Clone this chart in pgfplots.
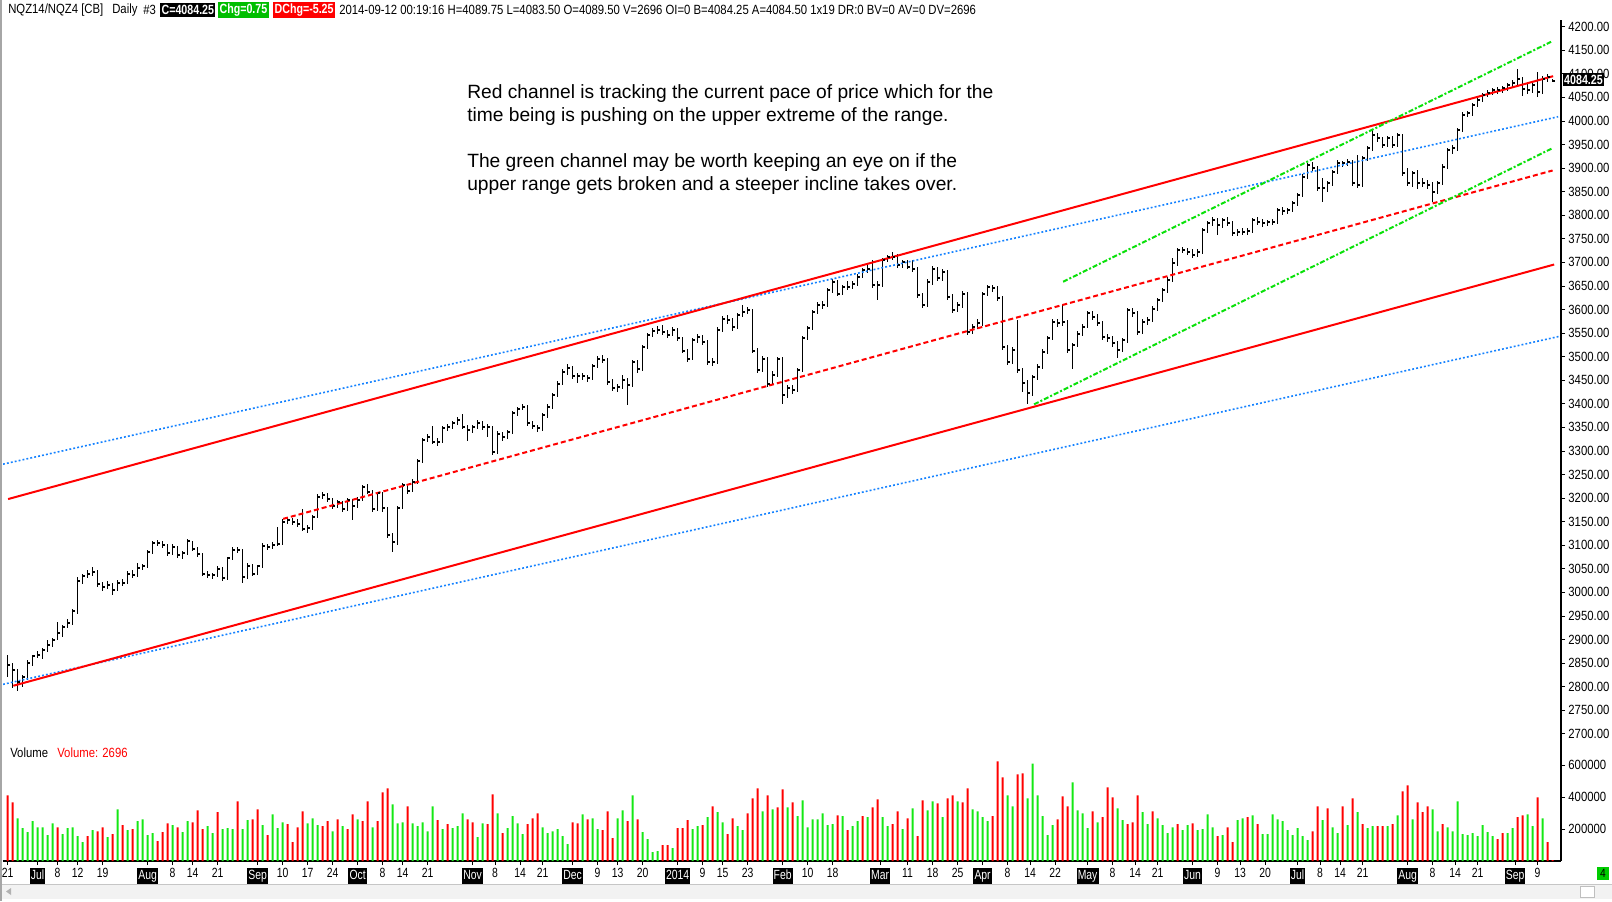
\documentclass[border=0pt]{standalone}
\usepackage{pgfplots}
\pgfplotsset{compat=1.18}
\usepackage{pgfplotstable}
\usepackage{fontspec}
\setmainfont{Liberation Sans}
\newfontfamily\cf[FakeStretch=0.85]{Liberation Sans}
\newfontfamily\cfb[FakeStretch=0.8]{Liberation Sans Bold}
\newfontfamily\df[FakeStretch=0.78]{Liberation Sans}
\definecolor{vgreen}{RGB}{20,232,20}
\definecolor{lgreen}{RGB}{10,225,10}
\definecolor{dblue}{RGB}{20,130,255}
\definecolor{chg}{RGB}{0,190,0}
\pgfdeclareplotmark{ctick}{\pgfpathrectangle{\pgfqpoint{0pt}{-0.75pt}}{\pgfqpoint{2pt}{1.5pt}}\pgfusepathqfill}
\newcommand{\mth}[1]{{\setlength{\fboxsep}{0.8pt}\colorbox{black}{\textcolor{white}{\strut #1}}}}

\pgfplotstableread{
i H L C V U
0 2867 2821 2847 410 0
1 2850 2797 2835 367 0
2 2838 2791 2810 267 1
3 2824 2800 2820 205 1
4 2857 2815 2850 180 1
5 2868 2843 2866 249 1
6 2875 2861 2867 211 1
7 2883 2858 2878 211 1
8 2898 2874 2888 162 1
9 2904 2885 2900 236 1
10 2938 2898 2913 211 0
11 2930 2905 2927 168 1
12 2944 2925 2935 205 1
13 2964 2930 2960 211 1
14 3032 2955 3025 155 1
15 3038 3017 3035 118 1
16 3048 3030 3040 155 0
17 3054 3034 3044 193 1
18 3047 3012 3017 186 0
19 3022 3004 3011 211 0
20 3024 3008 3016 149 1
21 3019 2994 3006 168 0
22 3026 3003 3021 323 1
23 3029 3014 3021 224 0
24 3045 3018 3040 193 1
25 3047 3030 3037 199 0
26 3062 3032 3052 249 1
27 3061 3047 3057 261 1
28 3090 3052 3086 162 1
29 3109 3081 3104 174 1
30 3111 3098 3104 124 0
31 3108 3094 3100 180 0
32 3103 3078 3084 236 0
33 3102 3080 3097 224 1
34 3099 3072 3079 211 0
35 3088 3070 3083 180 1
36 3113 3079 3108 249 1
37 3110 3088 3093 242 0
38 3096 3076 3081 317 0
39 3084 3034 3040 199 0
40 3046 3030 3037 218 1
41 3042 3029 3037 174 1
42 3055 3033 3050 305 0
43 3053 3025 3030 199 1
44 3076 3026 3072 205 1
45 3096 3068 3090 199 1
46 3097 3084 3091 373 0
47 3093 3021 3033 199 1
48 3062 3029 3057 255 1
49 3060 3035 3040 261 0
50 3058 3036 3055 323 0
51 3104 3052 3099 224 1
52 3103 3091 3097 162 0
53 3106 3093 3100 292 1
54 3139 3098 3103 205 1
55 3156 3100 3150 242 1
56 3160 3145 3154 230 0
57 3158 3142 3150 118 0
58 3155 3139 3146 211 0
59 3177 3130 3134 311 0
60 3143 3127 3136 236 1
61 3165 3132 3161 267 1
62 3209 3157 3203 224 1
63 3214 3198 3207 218 0
64 3210 3192 3198 249 0
65 3201 3176 3183 186 1
66 3197 3180 3192 261 0
67 3194 3170 3176 218 1
68 3201 3173 3196 199 0
69 3199 3154 3183 292 0
70 3203 3180 3197 261 1
71 3228 3193 3224 249 0
72 3229 3208 3214 373 0
73 3217 3170 3176 211 1
74 3214 3173 3210 249 0
75 3213 3170 3178 429 0
76 3181 3116 3122 454 0
77 3126 3086 3106 354 1
78 3184 3101 3180 236 1
79 3232 3176 3228 242 1
80 3231 3209 3215 342 0
81 3240 3212 3235 236 1
82 3284 3231 3279 218 1
83 3327 3275 3323 242 1
84 3337 3318 3330 186 1
85 3352 3315 3320 342 1
86 3327 3311 3320 255 0
87 3352 3316 3348 199 1
88 3357 3343 3351 230 0
89 3364 3346 3360 205 1
90 3372 3355 3366 218 1
91 3378 3346 3351 298 1
92 3356 3321 3344 261 0
93 3356 3339 3351 242 0
94 3366 3346 3359 149 1
95 3363 3344 3351 236 1
96 3358 3330 3351 230 0
97 3354 3292 3298 416 0
98 3342 3294 3337 298 1
99 3341 3322 3330 174 0
100 3345 3325 3341 205 1
101 3385 3336 3380 280 1
102 3394 3375 3389 236 1
103 3399 3386 3394 168 1
104 3397 3352 3359 230 0
105 3363 3346 3352 267 0
106 3356 3340 3348 298 0
107 3380 3343 3376 211 1
108 3399 3371 3394 174 1
109 3424 3390 3419 186 1
110 3448 3414 3443 199 1
111 3473 3439 3468 155 1
112 3485 3462 3477 106 1
113 3480 3452 3458 242 0
114 3465 3445 3458 236 0
115 3466 3450 3458 292 1
116 3462 3447 3454 261 0
117 3485 3450 3480 267 1
118 3501 3476 3496 199 1
119 3503 3486 3494 193 0
120 3497 3441 3447 311 0
121 3452 3427 3433 143 0
122 3442 3425 3436 267 1
123 3461 3431 3450 317 1
124 3455 3397 3440 249 0
125 3494 3436 3489 410 1
126 3492 3466 3473 261 0
127 3525 3470 3521 180 1
128 3550 3517 3546 137 1
129 3561 3541 3554 56 1
130 3565 3549 3557 62 1
131 3567 3547 3553 99 0
132 3557 3540 3547 99 0
133 3562 3543 3557 81 1
134 3560 3533 3539 205 0
135 3542 3507 3513 205 0
136 3517 3489 3496 255 0
137 3540 3492 3535 199 1
138 3548 3530 3542 218 1
139 3546 3525 3532 224 0
140 3536 3483 3489 274 1
141 3497 3480 3489 342 0
142 3562 3485 3557 305 1
143 3586 3552 3581 242 1
144 3588 3570 3578 168 0
145 3583 3555 3562 267 0
146 3593 3558 3588 218 1
147 3610 3585 3595 193 1
148 3605 3590 3599 298 0
149 3602 3508 3513 392 0
150 3518 3465 3472 454 0
151 3501 3468 3496 311 1
152 3499 3436 3443 410 0
153 3470 3440 3461 323 1
154 3500 3457 3496 336 0
155 3499 3400 3419 448 0
156 3440 3412 3433 336 1
157 3441 3420 3429 367 0
158 3476 3425 3472 280 1
159 3543 3468 3539 379 1
160 3566 3535 3560 211 1
161 3600 3556 3595 261 1
162 3615 3590 3610 261 1
163 3618 3602 3610 298 1
164 3646 3606 3641 224 1
165 3665 3636 3659 230 1
166 3662 3628 3634 286 0
167 3652 3630 3647 280 1
168 3660 3641 3648 193 0
169 3660 3643 3655 218 1
170 3676 3650 3670 249 1
171 3689 3666 3684 280 0
172 3694 3678 3687 274 1
173 3705 3646 3652 336 0
174 3660 3620 3652 385 0
175 3709 3648 3705 274 1
176 3716 3700 3711 218 1
177 3722 3705 3712 230 0
178 3717 3688 3694 311 0
179 3706 3689 3701 199 1
180 3705 3685 3691 267 0
181 3705 3680 3687 329 1
182 3690 3625 3631 155 0
183 3636 3604 3610 379 0
184 3664 3606 3659 317 1
185 3692 3653 3687 373 1
186 3690 3660 3666 361 0
187 3686 3661 3680 274 1
188 3684 3620 3627 392 0
189 3633 3592 3599 410 0
190 3615 3594 3610 373 1
191 3640 3603 3634 367 0
192 3637 3546 3553 454 0
193 3570 3548 3564 323 1
194 3581 3558 3571 311 1
195 3638 3566 3634 274 1
196 3653 3628 3648 249 1
197 3653 3638 3645 280 0
198 3650 3618 3624 622 0
199 3628 3514 3521 522 0
200 3525 3482 3489 410 1
201 3520 3484 3515 342 1
202 3578 3466 3472 541 0
203 3476 3425 3445 547 0
204 3450 3399 3422 392 1
205 3462 3416 3457 609 1
206 3484 3450 3479 410 1
207 3516 3474 3511 280 1
208 3544 3505 3539 162 1
209 3579 3535 3574 224 1
210 3580 3563 3571 261 0
211 3610 3566 3574 404 0
212 3578 3508 3514 342 0
213 3530 3473 3525 491 1
214 3554 3520 3549 317 1
215 3569 3544 3564 298 1
216 3597 3560 3592 205 1
217 3596 3578 3585 311 0
218 3590 3565 3571 242 1
219 3576 3536 3542 274 0
220 3548 3532 3539 460 0
221 3543 3521 3528 398 0
222 3533 3498 3514 329 1
223 3540 3509 3535 255 1
224 3604 3530 3599 230 0
225 3603 3585 3592 242 0
226 3596 3547 3553 410 0
227 3579 3548 3574 305 1
228 3584 3568 3578 230 1
229 3607 3573 3602 311 0
230 3625 3597 3620 267 1
231 3646 3615 3641 224 1
232 3668 3636 3663 174 1
233 3709 3658 3698 211 1
234 3731 3693 3726 230 0
235 3733 3719 3726 193 1
236 3731 3716 3723 224 1
237 3728 3709 3716 236 0
238 3728 3711 3723 193 1
239 3774 3718 3769 199 1
240 3788 3763 3783 292 1
241 3797 3778 3790 211 1
242 3795 3758 3779 155 0
243 3795 3774 3790 162 1
244 3796 3777 3783 211 0
245 3787 3755 3762 118 0
246 3771 3756 3765 255 1
247 3772 3758 3765 267 1
248 3773 3758 3767 274 0
249 3794 3762 3790 286 1
250 3796 3779 3786 230 0
251 3792 3776 3783 168 1
252 3791 3777 3786 168 1
253 3793 3779 3786 292 1
254 3815 3781 3811 261 1
255 3817 3801 3808 249 1
256 3816 3802 3811 193 1
257 3830 3806 3825 162 1
258 3847 3820 3842 205 1
259 3887 3838 3882 155 1
260 3910 3877 3907 131 1
261 3912 3893 3900 186 0
262 3904 3851 3857 342 0
263 3880 3829 3857 255 1
264 3873 3850 3868 329 0
265 3897 3862 3892 211 1
266 3917 3887 3910 174 1
267 3916 3902 3910 342 0
268 3920 3905 3914 224 1
269 3918 3862 3868 392 0
270 3928 3857 3864 305 1
271 3926 3860 3921 230 0
272 3947 3916 3942 205 1
273 3981 3937 3970 218 1
274 3975 3956 3963 218 0
275 3967 3943 3949 218 0
276 3968 3944 3963 218 1
277 3968 3942 3949 230 0
278 3975 3944 3970 286 1
279 3973 3883 3889 435 0
280 3900 3862 3868 472 0
281 3894 3860 3889 261 1
282 3895 3855 3868 367 0
283 3880 3860 3868 305 0
284 3874 3856 3864 342 0
285 3870 3829 3850 323 1
286 3873 3845 3868 186 1
287 3908 3864 3903 230 0
288 3942 3898 3938 211 1
289 3948 3931 3942 186 1
290 3986 3937 3981 373 1
291 4018 3976 4013 168 1
292 4022 4008 4016 162 1
293 4039 4011 4034 174 1
294 4049 4029 4044 155 1
295 4060 4040 4055 224 1
296 4065 4050 4059 180 1
297 4071 4055 4066 155 1
298 4072 4058 4066 137 0
299 4075 4060 4069 174 0
300 4080 4064 4076 174 1
301 4086 4069 4080 205 1
302 4110 4075 4090 274 0
303 4094 4053 4067 286 0
304 4078 4058 4066 292 1
305 4082 4060 4076 218 1
306 4104 4050 4062 398 0
307 4095 4058 4090 267 1
308 4100 4083 4094 118 0
309 4090 4083 4084 6 0
}\ohlc

\begin{document}
\begin{tikzpicture}[x=0.75pt,y=0.75pt]
\useasboundingbox (0,0) rectangle (1612,901);
\fill[white] (0,0) rectangle (1612,901);

% ---------------- price panel ----------------
\begin{axis}[
  at={(2.25pt,117pt)}, anchor=south west,
  width=1168.5pt, height=543.75pt, scale only axis,
  xmin=-0.92, xmax=310.68, ymin=2676.3, ymax=4214.2,
  axis x line=none, axis y line*=right,
  y axis line style={line width=1.1pt,-},
  ytick={2700,2750,...,4200},
  tick align=outside, major tick length=3pt,
  tick style={black, line width=0.6pt},
  yticklabel style={font=\cf\fontsize{10}{11}\selectfont, xshift=-1pt,
    /pgf/number format/.cd, fixed, fixed zerofill, precision=2, 1000 sep={}, assume math mode=true},
]
\addplot[black, only marks, mark=ctick,
  error bars/.cd, y dir=both, y explicit, error mark=none,
  error bar style={black, line width=0.9pt}]
  table[x=i, y=C, y error plus expr=\thisrow{H}-\thisrow{C}, y error minus expr=\thisrow{C}-\thisrow{L}] {\ohlc};
% channel lines
\addplot[dblue, line width=1.2pt, dash pattern=on 1.4pt off 1.6pt] coordinates {(-0.92,3272) (310.1,4009)};
\addplot[dblue, line width=1.2pt, dash pattern=on 1.4pt off 1.6pt] coordinates {(-0.92,2805) (310.3,3543)};
\addplot[red, line width=1.5pt] coordinates {(0.1,3198) (309.1,4095)};
\addplot[red, line width=1.5pt] coordinates {(1.14,2802) (309.3,3695.5)};
\addplot[red, line width=1.5pt, dash pattern=on 3.75pt off 2.25pt] coordinates {(55.1,3156) (309,3895)};
\addplot[lgreen, line width=1.5pt, dash pattern=on 3.75pt off 1.5pt on 1.5pt off 1.5pt] coordinates {(211.1,3659) (308.7,4168)};
\addplot[lgreen, line width=1.5pt, dash pattern=on 3.75pt off 1.5pt on 1.5pt off 1.5pt] coordinates {(205.3,3399) (309.1,3943)};
\end{axis}

% ---------------- volume panel ----------------
\begin{axis}[
  at={(2.25pt,30pt)}, anchor=south west,
  width=1168.5pt, height=87pt, scale only axis,
  xmin=-0.92, xmax=310.68, ymin=0, ymax=725,
  axis x line*=bottom, axis y line*=right,
  axis line style={line width=1.1pt,-},
  tick align=outside, major tick length=3pt,
  tick style={black, line width=0.6pt},
  ytick={200,400,600}, yticklabels={200000,400000,600000},
  yticklabel style={font=\cf\fontsize{10}{11}\selectfont, xshift=-1pt},
  xtick={0,6,10,14,19,28,33,37,42,50,55,60,65,70,75,79,84,93,97.5,102.5,107,113,118,122,127,134,139,143,148,155,160,165,174.5,180,185,190,195,200,204.5,209.5,216,221,225.5,230,237,242,246.5,251.5,258,262.5,266.5,271,280,285,289.5,294,301.5,306},
  xticklabels={21,\mth{Jul},8,12,19,\mth{Aug},8,14,21,\mth{Sep},10,17,24,\mth{Oct},8,14,21,\mth{Nov},8,14,21,\mth{Dec},9,13,20,\mth{2014},9,15,23,\mth{Feb},10,18,\mth{Mar},11,18,25,\mth{Apr},8,14,22,\mth{May},8,14,21,\mth{Jun},9,13,20,\mth{Jul},8,14,21,\mth{Aug},8,14,21,\mth{Sep},9},
  xticklabel style={font=\df\fontsize{10}{11}\selectfont, yshift=1pt},
]
\addplot[ybar, bar width=1.6pt, bar shift=0pt, fill=red, draw=none,
  restrict expr to domain={\thisrow{U}}{-0.5:0.5}] table[x=i, y=V] {\ohlc};
\addplot[ybar, bar width=1.6pt, bar shift=0pt, fill=vgreen, draw=none,
  restrict expr to domain={\thisrow{U}}{0.5:1.5}] table[x=i, y=V] {\ohlc};
\end{axis}

% ---------------- decorations & text ----------------
\draw[gray!70, line width=1.5pt] (1,0) -- (1,901);
% last price box on the right axis (covers the lower half of the 4100.00 label, as in the reference)
\fill[black] (1563,815) rectangle (1604,827.5);
\node[text=white, font=\cfb\fontsize{10}{11}\selectfont, inner sep=0pt] at (1583.5,821.2) {4084.25};

% header
\node[anchor=west, font=\cf\fontsize{10}{11}\selectfont, inner sep=0pt] at (8,891) {NQZ14/NQZ4 [CB]};
\node[anchor=west, font=\cf\fontsize{10}{11}\selectfont, inner sep=0pt] at (112,891) {Daily};
\node[anchor=west, font=\cf\fontsize{10}{11}\selectfont, inner sep=0pt] at (143,891) {\#3};
\node[anchor=west, fill=black, text=white, font=\cfb\fontsize{10}{11}\selectfont, inner sep=1pt, minimum height=11pt] at (160,891) {C=4084.25};
\node[anchor=west, fill=chg, text=white, font=\cfb\fontsize{10}{11}\selectfont, inner sep=1pt, minimum height=11pt] at (218,891) {Chg=0.75};
\node[anchor=west, fill=red, text=white, font=\cfb\fontsize{10}{11}\selectfont, inner sep=1pt, minimum height=11pt] at (273,891) {DChg=-5.25};
\node[anchor=west, font=\cf\fontsize{10}{11}\selectfont, inner sep=0pt] at (339,891) {2014-09-12 00:19:16 H=4089.75 L=4083.50 O=4089.50 V=2696 OI=0 B=4084.25 A=4084.50 1x19 DR:0 BV=0 AV=0 DV=2696};

% annotation
\node[anchor=west, font=\fontsize{14.4}{17}\selectfont, inner sep=0pt] at (467,807) {Red channel is tracking the current pace of price which for the};
\node[anchor=west, font=\fontsize{14.4}{17}\selectfont, inner sep=0pt] at (467,784) {time being is pushing on the upper extreme of the range.};
\node[anchor=west, font=\fontsize{14.4}{17}\selectfont, inner sep=0pt] at (467,738) {The green channel may be worth keeping an eye on if the};
\node[anchor=west, font=\fontsize{14.4}{17}\selectfont, inner sep=0pt] at (467,715) {upper range gets broken and a steeper incline takes over.};

% volume label
\node[anchor=west, font=\cf\fontsize{10}{11}\selectfont, inner sep=0pt] at (10,148) {Volume};
\node[anchor=west, font=\cf\fontsize{10}{11}\selectfont, text=red, inner sep=0pt] at (57,148) {Volume: 2696};

% small green box bottom right
\fill[green!80!black] (1597,21) rectangle (1609,34);
\node[font=\cf\fontsize{9}{10}\selectfont, inner sep=0pt] at (1603,27.5) {4};

% scrollbar
\fill[gray!10] (2,2) rectangle (1612,17);
\draw[gray!45, line width=0.5pt] (2,17) -- (1612,17);
\fill[gray!60] (6,9.5) -- (11,13) -- (11,6) -- cycle;
\fill[white] (1580,4) rectangle (1594,15);
\draw[gray!50, line width=0.5pt] (1580,4) rectangle (1594,15);
\end{tikzpicture}
\end{document}
